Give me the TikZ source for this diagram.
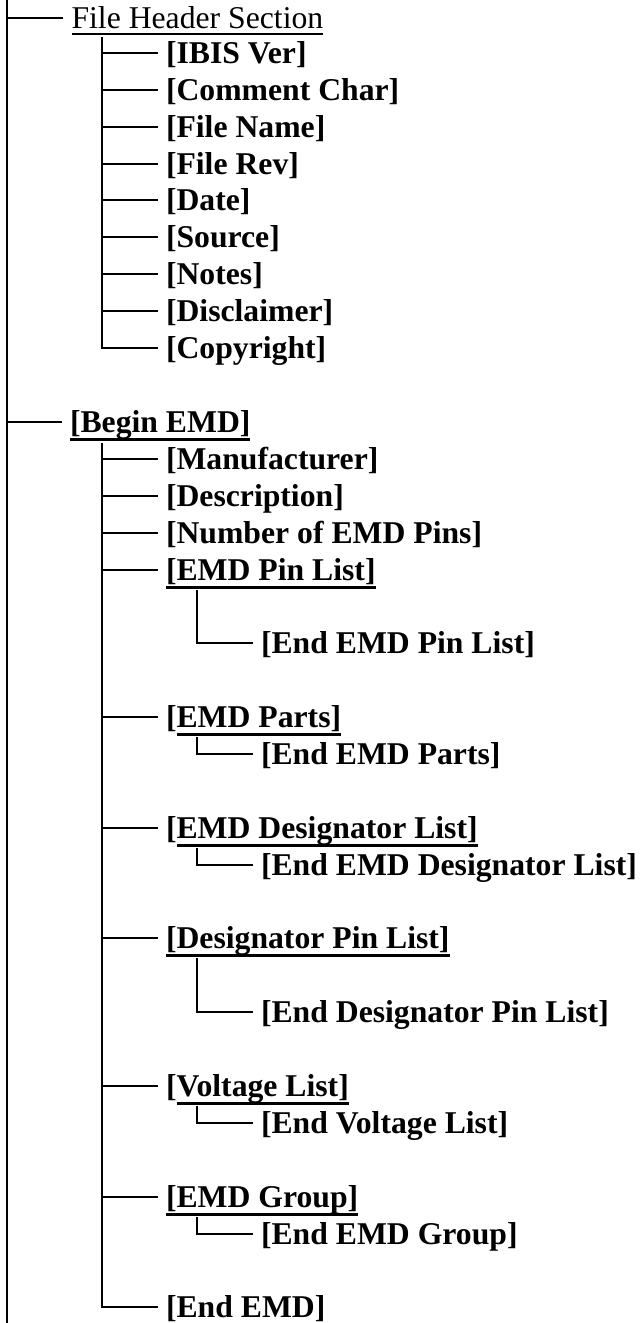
\documentclass[tikz,border=0pt]{standalone}
\usepackage{fontspec}
\setmainfont{Liberation Serif}
\begin{document}
\begin{tikzpicture}[x=1pt,y=-1pt,
  lbl/.style={anchor=west, inner sep=0pt, outer sep=0pt, text height=21pt, text depth=0pt,
    font={\fontsize{31.7}{38}\selectfont\bfseries}},
  hdr/.style={lbl, font={\fontsize{31.7}{38}\selectfont}},
  line/.style={line width=2pt},
  conn/.style={line width=2pt, shorten >=8.5pt},
  ulb/.style={line width=3pt},
  uln/.style={line width=1.5pt}]
\useasboundingbox (0,0) rectangle (642,1323);
% main trunk
\coordinate (top) at (7,0);
\coordinate (bot) at (7,1323);
\draw[line] (top) -- (bot);
% File header section
\node[hdr] (fhs) at (71.5,18) {File Header Section};
\draw[conn] (top) |- (fhs.west);
\draw[uln] ([yshift=-5.5pt]fhs.base west) -- ([yshift=-5.5pt]fhs.base east);
\coordinate (fv) at (102,37);
\node[lbl] (ibis) at (166,53) {[IBIS Ver]};
\node[lbl] (cchar) at (166,90) {[Comment Char]};
\node[lbl] (fname) at (166,127) {[File Name]};
\node[lbl] (frev) at (166,164) {[File Rev]};
\node[lbl] (date) at (166,200) {[Date]};
\node[lbl] (source) at (166,237) {[Source]};
\node[lbl] (notes) at (166,274) {[Notes]};
\node[lbl] (discl) at (166,311) {[Disclaimer]};
\node[lbl] (copy) at (166,348) {[Copyright]};
\foreach \n in {ibis,cchar,fname,frev,date,source,notes,discl,copy}
  \draw[conn] (fv) |- (\n.west);
% Begin EMD
\node[lbl] (begin) at (70,422) {[Begin EMD]};
\draw[conn] (top) |- (begin.west);
\draw[ulb] ([yshift=-6.5pt]begin.base west) -- ([yshift=-6.5pt]begin.base east);
\coordinate (bv) at (102,443);
\node[lbl] (manu) at (166,459) {[Manufacturer]};
\node[lbl] (desc) at (166,496) {[Description]};
\node[lbl] (npins) at (166,533) {[Number of EMD Pins]};
\node[lbl] (pinl) at (166,570) {[EMD Pin List]};
\node[lbl] (parts) at (166,717) {[};
\node[lbl, anchor=base west] (partsT) at (parts.base east) {EMD Parts]};
\node[lbl] (desl) at (166,828) {[};
\node[lbl, anchor=base west] (deslT) at (desl.base east) {EMD Designator List]};
\node[lbl] (dpin) at (166,938) {[Designator Pin List]};
\node[lbl] (volt) at (166,1086) {[};
\node[lbl, anchor=base west] (voltT) at (volt.base east) {Voltage List]};
\node[lbl] (group) at (166,1197) {[EMD Group]};
\node[lbl] (endemd) at (166,1307) {[End EMD]};
\foreach \n in {manu,desc,npins,pinl,parts,desl,dpin,volt,group,endemd}
  \draw[conn] (bv) |- (\n.west);
% underlines of level 2
\foreach \a in {pinl,partsT,deslT,dpin,voltT,group}
  \draw[ulb] ([yshift=-6.5pt]\a.base west) -- ([yshift=-6.5pt]\a.base east);
% level 3
\node[lbl] (epinl) at (261,643) {[End EMD Pin List]};
\node[lbl] (eparts) at (261,754) {[End EMD Parts]};
\node[lbl] (edesl) at (261,865) {[End EMD Designator List]};
\node[lbl] (edpin) at (261,1012) {[End Designator Pin List]};
\node[lbl] (evolt) at (261,1123) {[End Voltage List]};
\node[lbl] (egroup) at (261,1234) {[End EMD Group]};
\coordinate (s1) at (197,590);
\coordinate (s2) at (197,737);
\coordinate (s3) at (197,848);
\coordinate (s4) at (197,958);
\coordinate (s5) at (197,1106);
\coordinate (s6) at (197,1217);
\draw[conn] (s1) |- (epinl.west);
\draw[conn] (s2) |- (eparts.west);
\draw[conn] (s3) |- (edesl.west);
\draw[conn] (s4) |- (edpin.west);
\draw[conn] (s5) |- (evolt.west);
\draw[conn] (s6) |- (egroup.west);
\end{tikzpicture}
\end{document}
